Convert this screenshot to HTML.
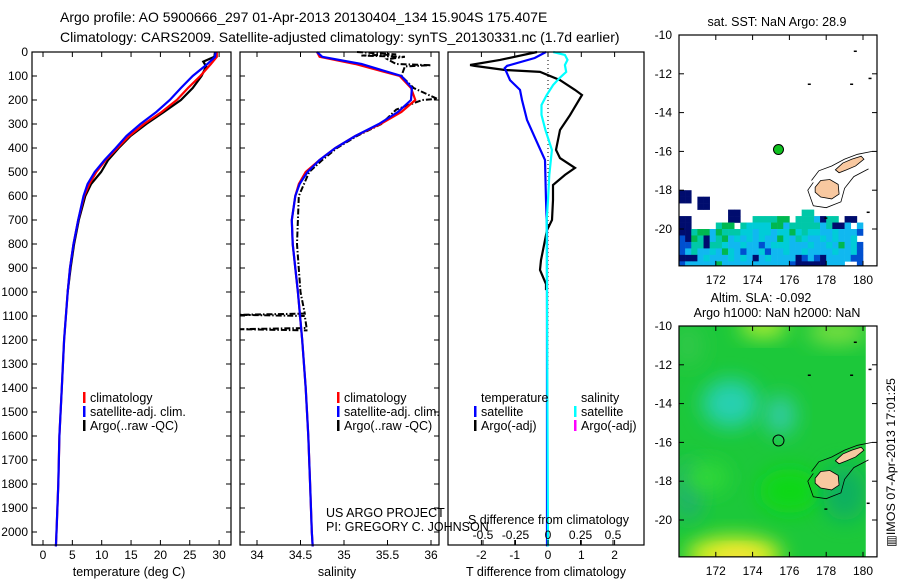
<!DOCTYPE html>
<html><head><meta charset="utf-8"><style>
body{margin:0;background:#fff;}
svg{display:block;font-family:"Liberation Sans",sans-serif;}
text{fill:#000;}
</style></head><body>
<svg id="fig" width="900" height="580" viewBox="0 0 900 580">
<text x="60" y="22" font-size="14">Argo profile: AO 5900666_297 01-Apr-2013 20130404_134 15.904S 175.407E</text>
<text x="60" y="42" font-size="14">Climatology: CARS2009. Satellite-adjusted climatology: synTS_20130331.nc (1.7d earlier)</text>
<g id="p1"></g>
<g id="p2"></g>
<g id="p3"></g>
<g id="m1"></g>
<g id="m2"></g>
<text transform="translate(895,547) rotate(-90)" font-size="12" textLength="169" lengthAdjust="spacingAndGlyphs">▥IMOS 07-Apr-2013 17:01:25</text>
</svg>
<script>
// ---------- data ----------
const depthTicks=[0,100,200,300,400,500,600,700,800,900,1000,1100,1200,1300,1400,1500,1600,1700,1800,1900,2000];
const tempTicks=[0,5,10,15,20,25,30];
const salTicks=[34,34.5,35,35.5,36];
const salTickLabels=["34","34.5","35","35.5","36"];
const tdTicks=[-2,-1,0,1,2];
const sdTicks=[-0.5,-0.25,0,0.25,0.5];
const sdTickLabels=["-0.5","-0.25","0","0.25","0.5"];
const latTicks=[-10,-12,-14,-16,-18,-20];
const lonTicks=[172,174,176,178,180];

const climDepth=[0,20,50,100,150,200,250,300,350,400,450,500,550,600,700,800,900,1000,1200,1400,1600,1800,2000,2060];
const climTemp=[29.6,29.6,28.6,26.8,24.7,22.8,20.2,17.2,14.7,12.7,10.7,9.1,7.9,7.0,6.0,5.2,4.6,4.2,3.6,3.2,2.8,2.6,2.3,2.2];
const satTemp=[29.4,29.3,28.0,25.5,23.5,21.6,19.3,16.6,14.2,12.4,10.5,8.8,7.6,6.9,6.0,5.2,4.6,4.2,3.6,3.2,2.8,2.6,2.3,2.2];
const argoTDepth=[0,20,40,60,100,150,200,250,300,350,400,450,500,550,600,700,800,900,1000];
const argoTemp=[29.3,29.2,27.3,27.8,27.0,25.5,23.5,20.6,17.6,14.9,12.9,11.1,9.9,8.2,7.2,6.1,5.3,4.7,4.2];

const climSal=[34.69,34.72,35.13,35.64,35.77,35.82,35.66,35.42,35.13,34.90,34.72,34.56,34.48,34.44,34.40,34.41,34.44,34.47,34.52,34.56,34.59,34.61,34.63,34.64];
const satSal=[34.69,34.75,35.2,35.66,35.78,35.77,35.62,35.4,35.13,34.9,34.72,34.58,34.49,34.44,34.40,34.41,34.44,34.47,34.52,34.56,34.59,34.61,34.63,34.64];
const argoSDepth=[0,10,15,20,30,50,55,60,100,150,195,200,240,300,350,400,450,500,600,800,1000,1090,1095,1100,1150,1155,1160];
const argoSal=[35.15,35.6,35.2,35.7,35.5,35.6,36.0,35.7,35.66,35.8,36.07,35.9,35.6,35.43,35.15,34.92,34.75,34.6,34.48,34.46,34.5,34.55,33.8,34.55,34.57,33.8,34.58];

const tdDepth=[0,25,58,67,117,158,200,283,367,450,617,742,2060];
const tdSat=[-0.06,-0.4,-1.23,-1.3,-1.14,-0.84,-0.78,-0.63,-0.36,-0.09,-0.06,-0.03,-0.03];
const tdArgoDepth=[0,33,54,58,75,83,117,158,179,242,263,325,408,442,483,512,554,617,700,742,867,908,967,992];
const tdArgo=[-0.33,-1.44,-2.34,-2.2,-1.29,-0.24,0.36,0.81,1.02,0.75,0.66,0.36,0.24,0.36,0.81,0.51,0.15,0.15,0.12,-0.03,-0.21,-0.24,-0.06,-0.06];
const sdDepth=[0,12,33,54,83,108,137,179,221,262,325,408,512,617,700,2060];
const sdSat=[0.04,0.13,0.15,0.13,0.14,0.09,0.04,-0.01,-0.05,-0.05,-0.02,0.03,0.01,0,-0.01,0];

// SST cells: rows from lat -18 in 1/3 deg steps, columns from lon 170 in 1/3 deg steps
const sstRows=[
"nn",
"nn nn",
"   nn",
"        nn          tt",
"nn      nn  ttttgg tttbntt nn",
"nn    tgg tccccggbtttttbtnnb b",
"nntggbgtttccbccbccgctccbbcbbbd",
"dngtnbtgbcbcbcbbgcbtcbbcbcbbc",
"ddttnttcbbcbbdbcccbbbcbbcbgbcd",
"dbtbbcbgcbdbbcdbbcbbcbbbbcbbcd",
"nnnbcbbbcbcbnbcbbbbndbdnbbbbdd",
"dbbbbbgbbbbbbbbbbbdnnnnnbbb  d"];
const sstColors={n:"#000c6e",b:"#10b8f0",c:"#00ccd8",t:"#00c8a8",g:"#00b850",d:"#0050d0"};
const argoLon=175.407, argoLat=-15.904;

// ---------- helpers ----------
const NS="http://www.w3.org/2000/svg";
function mk(parent,tag,attrs,txt){const e=document.createElementNS(NS,tag);for(const k in attrs)e.setAttribute(k,attrs[k]);if(txt!==undefined)e.textContent=txt;parent.appendChild(e);return e;}
const yD=d=>52+d*0.24;
function line(g,xs,ds,xf,color,w,dash){
  const pts=xs.map((v,i)=>xf(v).toFixed(1)+","+yD(ds[i]).toFixed(1)).join(" ");
  const a={points:pts,fill:"none",stroke:color,"stroke-width":w};
  if(dash)a["stroke-dasharray"]=dash;
  return mk(g,"polyline",a);
}
function frame(g,x0,x1){
  const r=mk(g,"rect",{x:x0,y:52,width:x1-x0,height:493,fill:"none",stroke:"#000","stroke-width":1.2});
  
  
}
function depthTicksOn(g,x0,x1,labels){
  depthTicks.forEach(d=>{
    const y=yD(d);
    mk(g,"line",{x1:x0,x2:x0+5,y1:y,y2:y,stroke:"#000"});
    mk(g,"line",{x1:x1-5,x2:x1,y1:y,y2:y,stroke:"#000"});
    if(labels){const t=mk(g,"text",{x:x0-4,y:y+4,"font-size":12,"text-anchor":"end"},String(d));
      
      }
  });
}
function xTicks(g,vals,labs,xf,ly,tickTop){
  vals.forEach((v,i)=>{
    const x=xf(v);
    mk(g,"line",{x1:x,x2:x,y1:545,y2:540,stroke:"#000"});
    if(tickTop)mk(g,"line",{x1:x,x2:x,y1:52,y2:57,stroke:"#000"});
    if(ly){const t=mk(g,"text",{x:x,y:ly,"font-size":12,"text-anchor":"middle"},labs[i]);
      
      }
  });
}
function legend(g,x,y,items){
  items.forEach((it,i)=>{
    if(it[0]){const r=mk(g,"rect",{x:x,y:y+i*14-10,width:2.5,height:11,fill:it[0]});
      
      }
    const t=mk(g,"text",{x:x+7,y:y+i*14,"font-size":12.5},it[1]);
    
    
  });
}

// ---------- panel 1: temperature ----------
const p1=document.getElementById("p1");
const xT=v=>43+v*5.87;
line(p1,argoTemp,argoTDepth,xT,"#000",2.2);
line(p1,climTemp,climDepth,xT,"#f00",2.2);
line(p1,satTemp,climDepth,xT,"#00f",2.2);
frame(p1,32,231);depthTicksOn(p1,32,231,true);
xTicks(p1,tempTicks,tempTicks.map(String),xT,559,true);
mk(p1,"text",{x:129,y:576,"font-size":12.5,"text-anchor":"middle",},"temperature (deg C)");
legend(p1,83,402,[["#f00","climatology"],["#00f","satellite-adj. clim."],["#000","Argo(..raw -QC)"]]);

// ---------- panel 2: salinity ----------
const p2=document.getElementById("p2");
const xS=v=>257+(v-34)*87;
line(p2,argoSal,argoSDepth,xS,"#000",2,"6,2,1.5,2");
line(p2,climSal,climDepth,xS,"#f00",2.2);
line(p2,satSal,climDepth,xS,"#00f",2.2);
frame(p2,240,439);depthTicksOn(p2,240,439,false);
xTicks(p2,salTicks,salTickLabels,xS,559,true);
mk(p2,"text",{x:337,y:576,"font-size":12.5,"text-anchor":"middle",},"salinity");
legend(p2,337,402,[["#f00","climatology"],["#00f","satellite-adj. clim."],["#000","Argo(..raw -QC)"]]);
mk(p2,"text",{x:326,y:517,"font-size":12.5,},"US ARGO PROJECT");
mk(p2,"text",{x:326,y:531,"font-size":12.5,},"PI: GREGORY C. JOHNSON");

// ---------- panel 3: differences ----------
const p3=document.getElementById("p3");
const xTD=v=>548+v*33.3, xSD=v=>548+v*130;
mk(p3,"line",{x1:548,x2:548,y1:52,y2:370,stroke:"#000","stroke-dasharray":"1,3",});
line(p3,tdArgo,tdArgoDepth,xTD,"#000",2.2);
line(p3,tdSat,tdDepth,xTD,"#00f",2.2);
line(p3,sdSat,sdDepth,xSD,"#0ff",2.2);
frame(p3,448,644);
xTicks(p3,tdTicks,tdTicks.map(String),xTD,559,true);
xTicks(p3,sdTicks,sdTickLabels,xSD,539,false);
mk(p3,"text",{x:468,y:524,"font-size":12.5,},"S difference from climatology");
mk(p3,"text",{x:546,y:576,"font-size":12.5,"text-anchor":"middle",},"T difference from climatology");
legend(p3,474,402,[[null,"temperature"],["#00f","satellite"],["#000","Argo(-adj)"]]);
legend(p3,574,402,[[null,"salinity"],["#0ff","satellite"],["#f0f","Argo(-adj)"]]);

// ---------- maps ----------
const xL=lon=>679+(lon-170)*18.4;
const LATB=-21.9;
function mapAxes(g,top,titles){
  const yL=lat=>top+(-10-lat)*19.4;
  const bot=yL(LATB);
  latTicks.forEach(l=>{const y=yL(l);
    mk(g,"line",{x1:679,x2:684,y1:y,y2:y,stroke:"#000"});mk(g,"line",{x1:872,x2:877,y1:y,y2:y,stroke:"#000"});
    const t=mk(g,"text",{x:672,y:y+4,"font-size":12,"text-anchor":"end"},String(l));
    
    });
  lonTicks.forEach(l=>{const x=xL(l);
    mk(g,"line",{x1:x,x2:x,y1:top,y2:top+5,stroke:"#000"});mk(g,"line",{x1:x,x2:x,y1:bot,y2:bot-5,stroke:"#000"});
    const t=mk(g,"text",{x:x,y:bot+18,"font-size":12,"text-anchor":"middle"},String(l));
    
    });
  const r=mk(g,"rect",{x:679,y:top,width:198,height:bot-top,fill:"none",stroke:"#000","stroke-width":1.2});
  
  
  titles.forEach(s=>{const t=mk(g,"text",{x:s[1],y:s[2],"font-size":12.5,"text-anchor":"middle"},s[0]);
    
    });
  return yL;
}
function fiji(g,yL){
  const vl=[[178.5,-16.95],[178.9,-16.6],[179.4,-16.4],[179.9,-16.25],[180.05,-16.4],[179.6,-16.75],[179.1,-16.95],[178.7,-17.1]];
  const vv=[[177.4,-17.85],[177.7,-17.5],[178.2,-17.45],[178.65,-17.7],[178.7,-18.2],[178.3,-18.45],[177.7,-18.35],[177.4,-18.1]];
  const c1=[[177.2,-17.5],[177.6,-17.0],[178.3,-16.75],[179.0,-16.4],[179.7,-16.15],[180.5,-16.0]];
  const c2=[[177.3,-17.6],[177.0,-18.0],[177.3,-18.8],[178.0,-18.9],[178.8,-18.6],[179.0,-17.9],[179.5,-17.3],[180.3,-16.9]];
  [c1,c2].forEach(c=>mk(g,"polyline",{points:c.map(p=>xL(p[0])+","+yL(p[1])).join(" "),fill:"none",stroke:"#000","stroke-width":0.8}));
  [vl,vv].forEach(c=>{const p=mk(g,"polygon",{points:c.map(p=>xL(p[0])+","+yL(p[1])).join(" "),fill:"#f8c8a0",stroke:"#000","stroke-width":0.8});
    
    });
  [[177,-12.5],[179.3,-12.5],[180.3,-12.2],[179.5,-10.8],[180.2,-19.1],[177.9,-19.4]].forEach(p=>mk(g,"rect",{x:xL(p[0]),y:yL(p[1]),width:3,height:1.5,fill:"#000"}));
}
// map 1 SST
const m1=document.getElementById("m1");
const T1=35;
const y1=lat=>T1+(-10-lat)*19.4;
const cl=mk(m1,"clipPath",{id:"c1"});mk(cl,"rect",{x:679,y:T1,width:198,height:y1(LATB)-T1});
const cg=mk(m1,"g",{"clip-path":"url(#c1)"});
const cw=18.4/3, ch=19.4/3;
sstRows.forEach((row,r)=>{for(let c=0;c<row.length;c++){const k=row[c];if(!sstColors[k])continue;
  const lon=170+c/3, lat=-18-r/3;
  const e=mk(cg,"rect",{x:xL(lon),y:y1(lat),width:cw+0.3,height:ch+0.3,fill:sstColors[k]});
  
  }});
fiji(m1,y1);
mapAxes(m1,T1,[["sat. SST: NaN Argo: 28.9",777,26]]);
const pt=mk(m1,"circle",{cx:xL(argoLon),cy:y1(argoLat),r:5,fill:"#10c020",stroke:"#000"});



// map 2 SLA
const m2=document.getElementById("m2");
const T2=326;
const y2=lat=>T2+(-10-lat)*19.4;
const defs=mk(m2,"defs",{});
const f=mk(defs,"filter",{id:"bl",x:"-50%",y:"-50%",width:"200%",height:"200%"});mk(f,"feGaussianBlur",{stdDeviation:10});
const c2=mk(defs,"clipPath",{id:"c2"});mk(c2,"rect",{x:679,y:T2,width:xL(180.15)-679,height:y2(LATB)-T2});
const sg=mk(m2,"g",{"clip-path":"url(#c2)"});
mk(sg,"rect",{x:679,y:T2,width:198,height:240,fill:"#1cc83a"});
const blobs=[[172.8,-14,28,24,"#28d0b0"],[175.5,-14.6,16,20,"#30cca0"],[173,-21.8,48,18,"#e0f020"],[173.2,-22,24,9,"#ffe040"],[174.6,-10,24,11,"#b8f030"],[178.6,-10.3,30,12,"#80e040"],[176,-18.5,30,22,"#10d818"],[170.5,-18.5,14,30,"#20b070"],[179,-18.6,22,28,"#10b060"],[171.5,-17.8,22,15,"#30d838"],[170.5,-11,15,20,"#30c848"]];
blobs.forEach(b=>mk(sg,"ellipse",{cx:xL(b[0]),cy:y2(b[1]),rx:b[2],ry:b[3],fill:b[4],filter:"url(#bl)"}));
fiji(m2,y2);
mapAxes(m2,T2,[["Altim. SLA: -0.092",761,302],["Argo h1000: NaN h2000: NaN",777,317]]);
const pt2=mk(m2,"circle",{cx:xL(argoLon),cy:y2(argoLat),r:5.5,fill:"none",stroke:"#000"});


</script>
</body></html>
